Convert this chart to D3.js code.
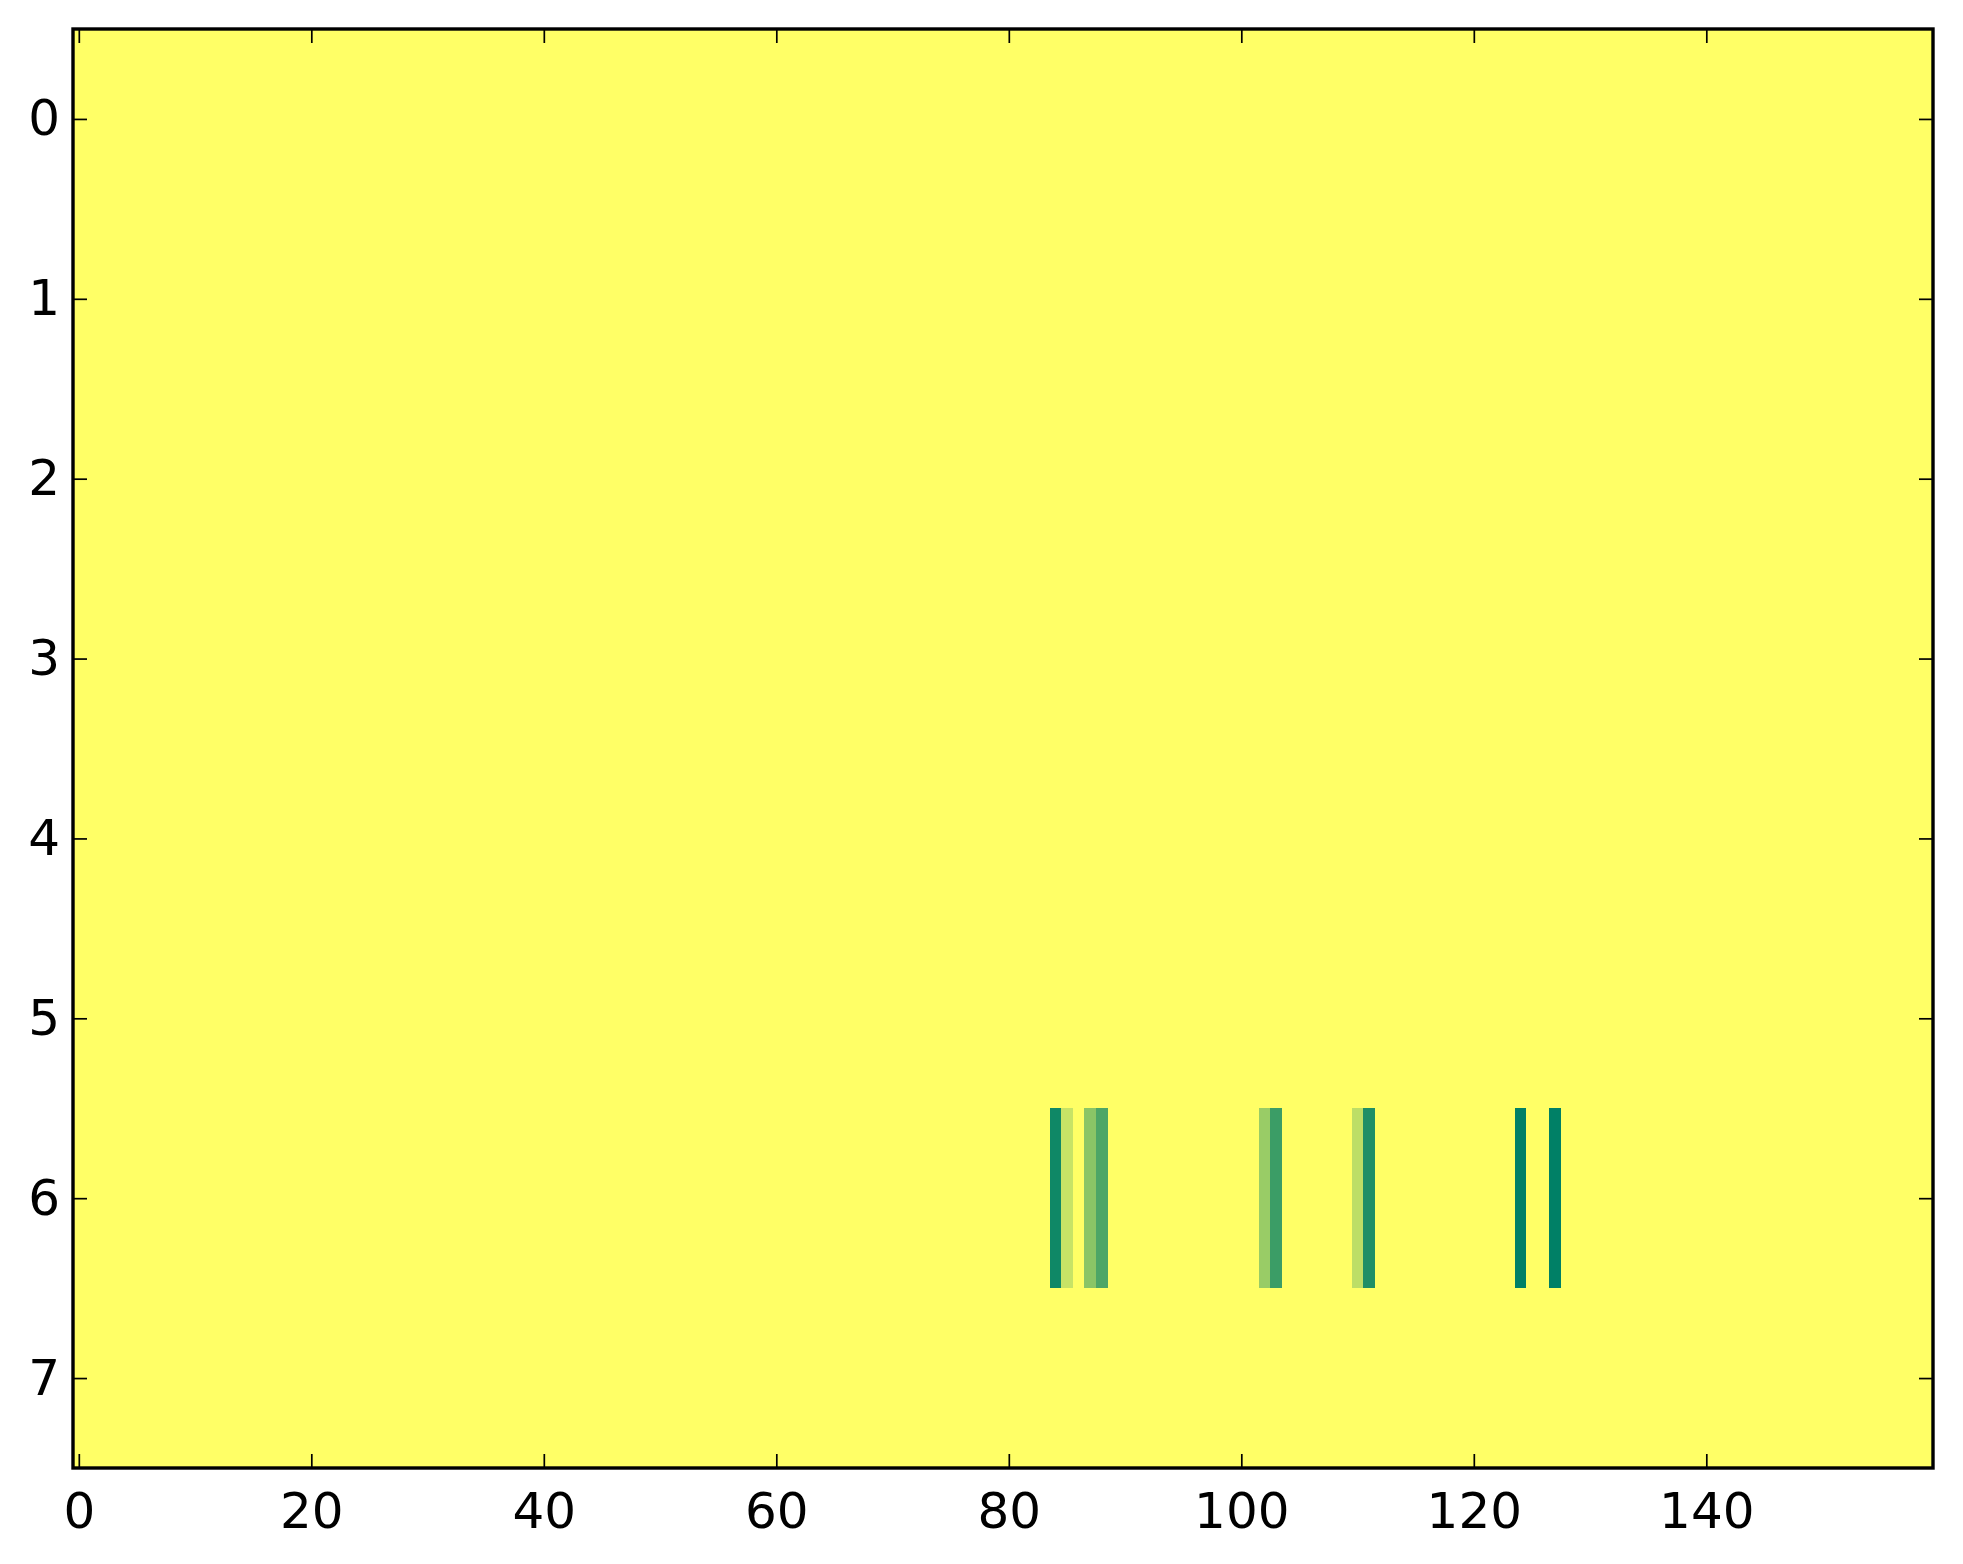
<!DOCTYPE html>
<html>
<head>
<meta charset="utf-8">
<script src="https://cdn.jsdelivr.net/npm/d3@7"></script>
<style>
html,body{margin:0;padding:0;background:#fff;}
svg{display:block;}
text{font-family:"DejaVu Sans",sans-serif;}
</style>
</head>
<body>
<svg id="chart" width="1963" height="1564"></svg>
<script>
// ---- data ----
const nRows = 8;
const nCols = 160;
const xTicks = [0, 20, 40, 60, 80, 100, 120, 140];
const yTicks = [0, 1, 2, 3, 4, 5, 6, 7];
const hotRow = 6;
const hotCols   = [84,   85,   87,   88,   102,  103,  110,  111,  124,  127];
const hotValues = [0.94, 0.22, 0.46, 0.70, 0.40, 0.77, 0.26, 0.88, 1.00, 1.00];

(function () {
// build matrix
const cells = [];
for (let r = 0; r < nRows; r++) {
  for (let c = 0; c < nCols; c++) {
    let v = 0;
    if (r === hotRow) {
      const i = hotCols.indexOf(c);
      if (i >= 0) v = hotValues[i];
    }
    cells.push({r, c, v});
  }
}

// ---- layout ----
const mLeft = 73, mTop = 29, mRight = 1933, mBottom = 1468;
const svg = d3.select("#chart");

const x = d3.scaleLinear().domain([-0.5, nCols - 0.5]).range([mLeft, mRight]);
const y = d3.scaleLinear().domain([-0.5, nRows - 0.5]).range([mTop, mBottom]);
const color = d3.scaleLinear().domain([0, 1]).range(["#ffff66", "#008066"]).interpolate(d3.interpolateRgb);

svg.append("g").attr("shape-rendering", "crispEdges")
  .selectAll("rect").data(cells).join("rect")
  .attr("x", d => x(d.c - 0.5))
  .attr("y", d => y(d.r - 0.5))
  .attr("width", d => x(d.c + 0.5) - x(d.c - 0.5) + 0.5)
  .attr("height", d => y(d.r + 0.5) - y(d.r - 0.5) + 0.5)
  .attr("fill", d => color(d.v));

const tickLen = 14, tickW = 1.7, fontSize = 50;

function styleAxis(g) {
  g.select(".domain").remove();
  g.selectAll(".tick line").attr("stroke", "#000").attr("stroke-width", tickW);
  g.selectAll(".tick text").attr("font-size", fontSize).attr("fill", "#000")
    .attr("font-family", "DejaVu Sans, sans-serif");
}

// bottom axis (ticks inward)
svg.append("g").attr("transform", `translate(0,${mBottom})`)
  .call(d3.axisBottom(x).tickValues(xTicks).tickFormat(d3.format("d")).tickSizeInner(-tickLen).tickSizeOuter(0).tickPadding(24))
  .call(styleAxis)
  .selectAll(".tick text").attr("dy", "0.71em");
// top axis ticks (no labels)
svg.append("g").attr("transform", `translate(0,${mTop})`)
  .call(d3.axisTop(x).tickValues(xTicks).tickFormat("").tickSizeInner(-tickLen).tickSizeOuter(0))
  .call(styleAxis);
// left axis
svg.append("g").attr("transform", `translate(${mLeft},0)`)
  .call(d3.axisLeft(y).tickValues(yTicks).tickFormat(d3.format("d")).tickSizeInner(-tickLen).tickSizeOuter(0).tickPadding(13))
  .call(styleAxis);
// right axis ticks
svg.append("g").attr("transform", `translate(${mRight},0)`)
  .call(d3.axisRight(y).tickValues(yTicks).tickFormat("").tickSizeInner(-tickLen).tickSizeOuter(0))
  .call(styleAxis);

// frame
svg.append("rect").attr("x", mLeft).attr("y", mTop)
  .attr("width", mRight - mLeft).attr("height", mBottom - mTop)
  .attr("fill", "none").attr("stroke", "#000").attr("stroke-width", 3.4);
})();
</script>
</body>
</html>
